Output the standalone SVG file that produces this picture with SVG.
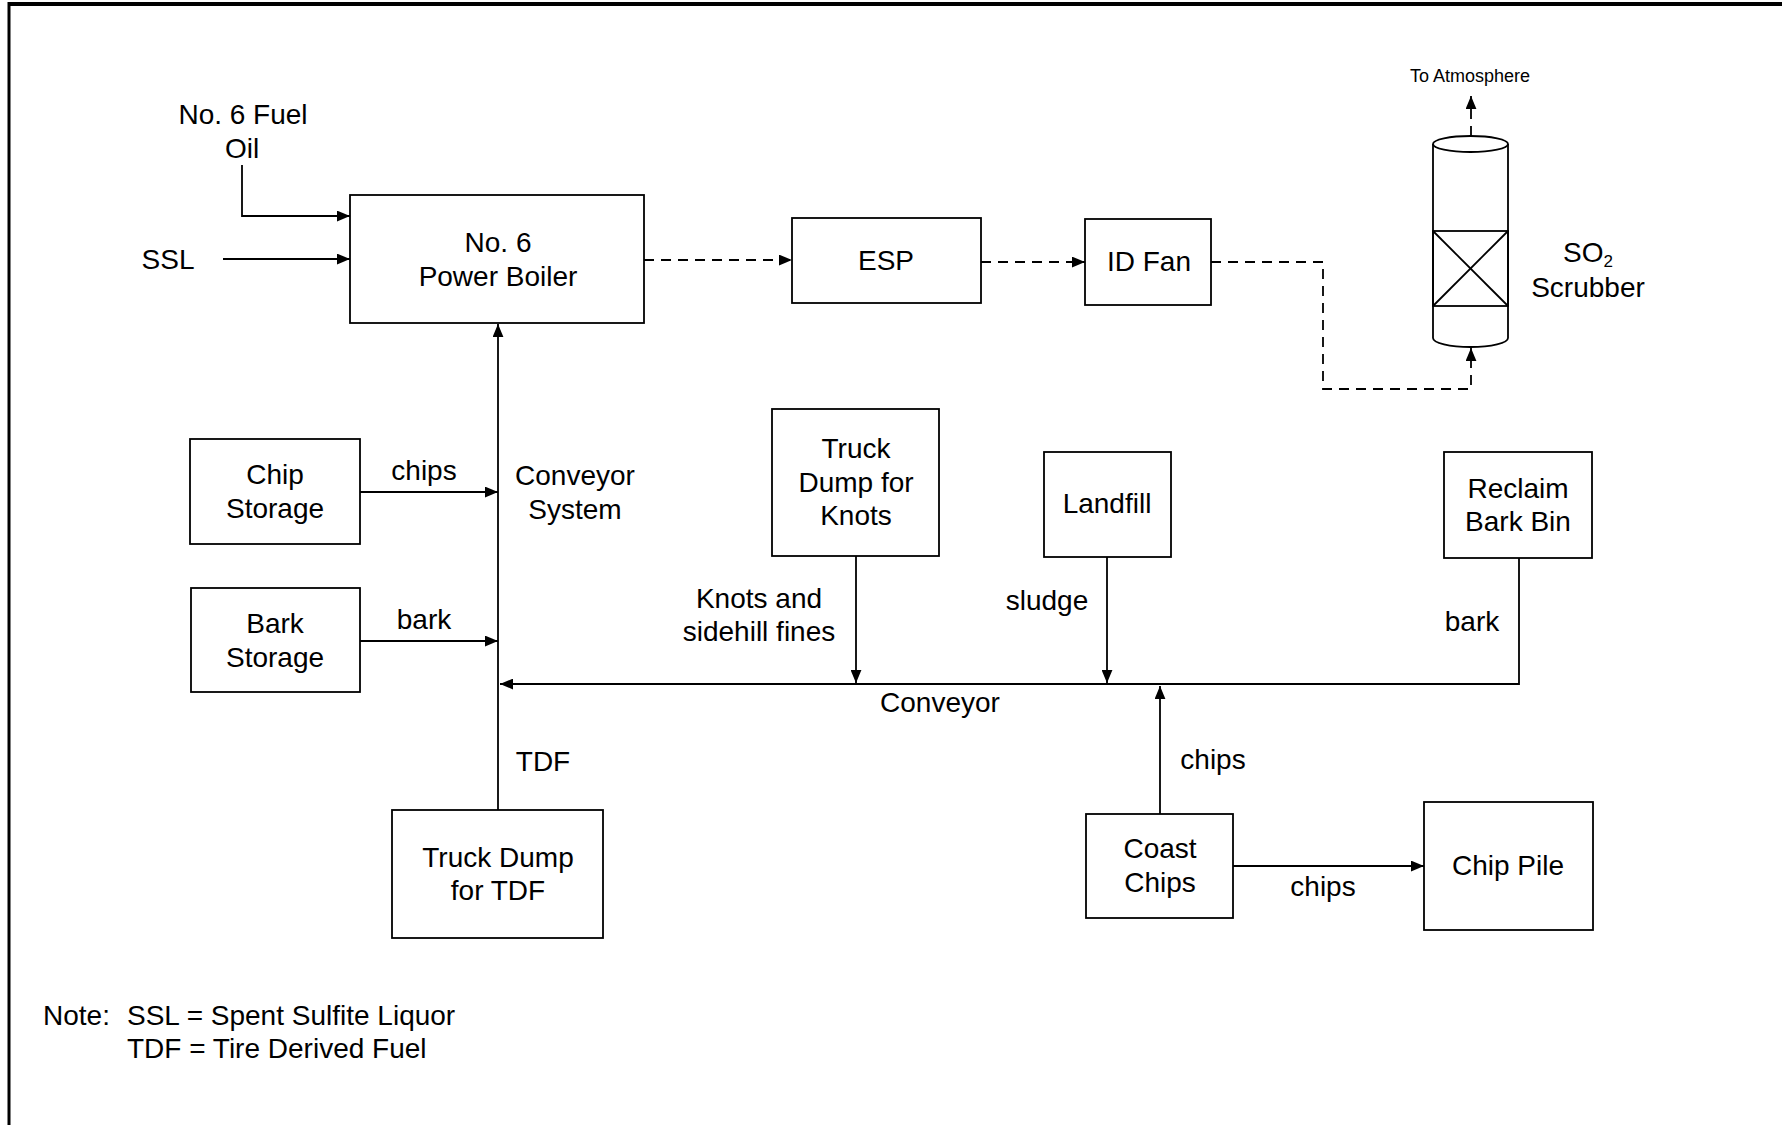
<svg xmlns="http://www.w3.org/2000/svg" width="1782" height="1125" viewBox="0 0 1782 1125">
<defs>
<marker id="ah" viewBox="0 0 12 10" refX="12" refY="5" markerWidth="13" markerHeight="11" markerUnits="userSpaceOnUse" orient="auto">
<path d="M0,0 L12,5 L0,10 Z" fill="#000"/>
</marker>
</defs>
<style>
text{font-family:"Liberation Sans",Arial,sans-serif;font-size:28px;fill:#000;text-anchor:middle}
.box{fill:#fff;stroke:#000;stroke-width:1.8}
.ln{fill:none;stroke:#000;stroke-width:1.8}
.ds{fill:none;stroke:#000;stroke-width:1.8;stroke-dasharray:10 7}
.arr{marker-end:url(#ah)}
.sm{font-size:18px}
.st{text-anchor:start}
</style>
<rect width="1782" height="1125" fill="#fff"/>
<g id="border">
<line x1="9" y1="4" x2="1782" y2="4" stroke="#000" stroke-width="4"/>
<line x1="9" y1="2" x2="9" y2="1125" stroke="#000" stroke-width="3"/>
</g>
<g id="connectors">
<polyline class="ln arr" points="242,165 242,216 350,216"/>
<line class="ln arr" x1="223" y1="259" x2="350" y2="259"/>
<line class="ds arr" x1="644" y1="260" x2="792" y2="260"/>
<line class="ds arr" x1="981" y1="262" x2="1085" y2="262"/>
<polyline class="ds arr" points="1211,262 1323,262 1323,389 1471,389 1471,348"/>
<line class="ds arr" x1="1471" y1="136" x2="1471" y2="96"/>
<line class="ln arr" x1="498" y1="810" x2="498" y2="324"/>
<line class="ln arr" x1="360" y1="492" x2="498" y2="492"/>
<line class="ln arr" x1="360" y1="641" x2="498" y2="641"/>
<polyline class="ln arr" points="1519,558 1519,684 500,684"/>
<line class="ln arr" x1="856" y1="556" x2="856" y2="683"/>
<line class="ln arr" x1="1107" y1="557" x2="1107" y2="683"/>
<line class="ln arr" x1="1160" y1="814" x2="1160" y2="686"/>
<line class="ln arr" x1="1233" y1="866" x2="1424" y2="866"/>
</g>
<g id="fuel-oil"><text x="243" y="124">No. 6 Fuel</text><text x="242" y="158">Oil</text></g>
<g id="ssl"><text x="168" y="269">SSL</text></g>
<g id="boiler"><rect class="box" x="350" y="195" width="294" height="128"/><text x="498" y="252">No. 6</text><text x="498" y="286">Power Boiler</text></g>
<g id="esp"><rect class="box" x="792" y="218" width="189" height="85"/><text x="886" y="270">ESP</text></g>
<g id="idfan"><rect class="box" x="1085" y="219" width="126" height="86"/><text x="1149" y="271">ID Fan</text></g>
<g id="scrubber">
<path class="box" d="M1433,144 L1433,338 A37.5,9 0 0 0 1508,338 L1508,144"/>
<ellipse class="box" cx="1470.5" cy="144" rx="37.5" ry="8"/>
<rect class="ln" x="1433" y="231" width="75" height="75"/>
<line class="ln" x1="1433" y1="231" x2="1508" y2="306"/>
<line class="ln" x1="1508" y1="231" x2="1433" y2="306"/>
<text x="1588" y="262">SO<tspan font-size="17" dy="5">2</tspan></text>
<text x="1588" y="297">Scrubber</text>
</g>
<g id="atmosphere"><text class="sm" x="1470" y="82">To Atmosphere</text></g>
<g id="chip-storage"><rect class="box" x="190" y="439" width="170" height="105"/><text x="275" y="484">Chip</text><text x="275" y="518">Storage</text></g>
<g id="bark-storage"><rect class="box" x="191" y="588" width="169" height="104"/><text x="275" y="633">Bark</text><text x="275" y="667">Storage</text></g>
<g id="truck-knots"><rect class="box" x="772" y="409" width="167" height="147"/><text x="856" y="458">Truck</text><text x="856" y="492">Dump for</text><text x="856" y="525">Knots</text></g>
<g id="landfill"><rect class="box" x="1044" y="452" width="127" height="105"/><text x="1107" y="513">Landfill</text></g>
<g id="reclaim"><rect class="box" x="1444" y="452" width="148" height="106"/><text x="1518" y="498">Reclaim</text><text x="1518" y="531">Bark Bin</text></g>
<g id="truck-tdf"><rect class="box" x="392" y="810" width="211" height="128"/><text x="498" y="867">Truck Dump</text><text x="498" y="900">for TDF</text></g>
<g id="coast-chips"><rect class="box" x="1086" y="814" width="147" height="104"/><text x="1160" y="858">Coast</text><text x="1160" y="892">Chips</text></g>
<g id="chip-pile"><rect class="box" x="1424" y="802" width="169" height="128"/><text x="1508" y="875">Chip Pile</text></g>
<g id="labels">
<text x="424" y="480">chips</text>
<text x="424" y="629">bark</text>
<text x="575" y="485">Conveyor</text>
<text x="575" y="519">System</text>
<text x="759" y="608">Knots and</text>
<text x="759" y="641">sidehill fines</text>
<text x="1047" y="610">sludge</text>
<text x="1472" y="631">bark</text>
<text x="940" y="712">Conveyor</text>
<text x="543" y="771">TDF</text>
<text x="1213" y="769">chips</text>
<text x="1323" y="896">chips</text>
</g>
<g id="note">
<text class="st" x="43" y="1025">Note:</text>
<text class="st" x="127" y="1025">SSL = Spent Sulfite Liquor</text>
<text class="st" x="127" y="1058">TDF = Tire Derived Fuel</text>
</g>
</svg>
